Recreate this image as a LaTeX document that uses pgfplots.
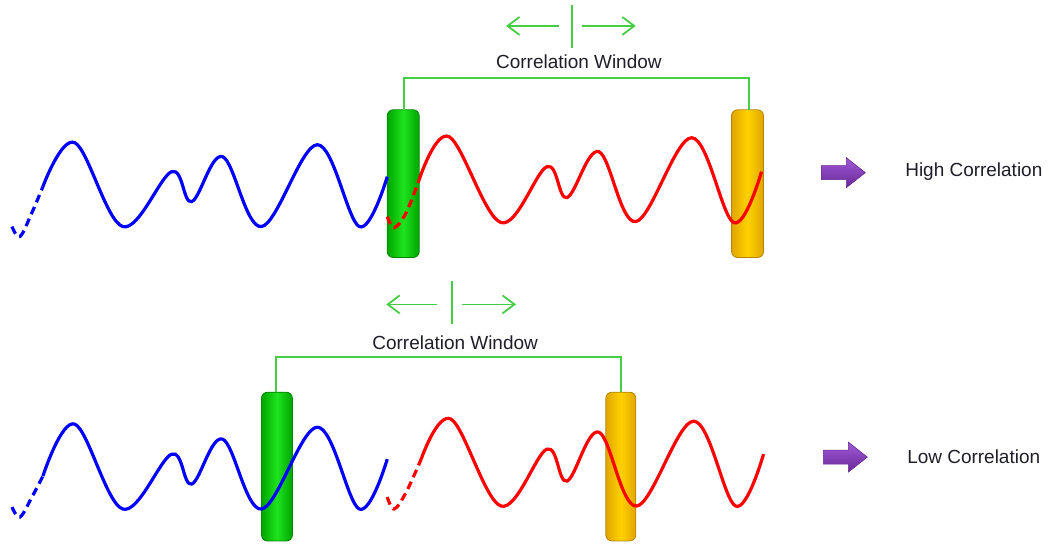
\documentclass[border=0pt]{standalone}
\usepackage{pgfplots}
\pgfplotsset{compat=1.18}
\usepackage{fontspec}
\setmainfont{Liberation Sans}
\usetikzlibrary{arrows.meta}
\definecolor{wblue}{RGB}{0,0,255}
\definecolor{wred}{RGB}{255,0,0}
\definecolor{lgreen}{RGB}{70,205,70}
\definecolor{gdark}{RGB}{0,165,0}
\definecolor{glight}{RGB}{30,228,30}
\definecolor{odark}{RGB}{225,165,0}
\definecolor{olight}{RGB}{255,210,0}
\definecolor{pdark}{RGB}{105,40,150}
\definecolor{plight}{RGB}{160,90,215}
\definecolor{txt}{RGB}{30,30,40}
\pgfplotsset{wave/.style={line width=1.6pt, smooth, tension=0.6}}
\begin{document}
\begin{tikzpicture}
\begin{axis}[width=524.5pt, height=272.5pt, scale only axis,
  xmin=0, xmax=1049, ymin=0, ymax=545, y dir=reverse,
  hide axis, clip=false]
\path (rel axis cs:0,0) rectangle (rel axis cs:1,1);
% ---------- bars ----------
\addplot[draw=gdark!80!black, line width=0.4pt, left color=gdark, right color=gdark, middle color=glight, rounded corners=3pt]
  coordinates {(388,110) (420,110) (420,258) (388,258)} -- cycle;
\addplot[draw=odark!80!black, line width=0.4pt, left color=odark, right color=odark, middle color=olight, rounded corners=3pt]
  coordinates {(733,110) (765,110) (765,258) (733,258)} -- cycle;
\addplot[draw=gdark!80!black, line width=0.4pt, left color=gdark, right color=gdark, middle color=glight, rounded corners=3pt]
  coordinates {(262,393) (293,393) (293,542) (262,542)} -- cycle;
\addplot[draw=odark!80!black, line width=0.4pt, left color=odark, right color=odark, middle color=olight, rounded corners=3pt]
  coordinates {(607,393) (637,393) (637,542) (607,542)} -- cycle;
% ---------- brackets ----------
\addplot[lgreen, line width=1pt] coordinates {(405,110) (405,78) (750,78) (750,110)};
\addplot[lgreen, line width=1pt] coordinates {(277,393) (277,358) (622,358) (622,393)};
% ---------- window arrows ----------
\addplot[lgreen, line width=0.9pt] coordinates {(573,5) (573,48)};
\addplot[lgreen, line width=0.9pt, -{Straight Barb[length=6pt,width=9pt]}] coordinates {(560,26) (507,26)};
\addplot[lgreen, line width=0.9pt, -{Straight Barb[length=6pt,width=9pt]}] coordinates {(583,26) (637,26)};
\addplot[lgreen, line width=0.9pt] coordinates {(453,282) (453,325)};
\addplot[lgreen, line width=0.9pt, -{Straight Barb[length=6pt,width=9pt]}] coordinates {(438,305) (387,305)};
\addplot[lgreen, line width=0.9pt, -{Straight Barb[length=6pt,width=9pt]}] coordinates {(463,305) (517,305)};
\node[txt, font=\fontsize{9.5}{11}\selectfont] at (axis cs:580,62) {Correlation Window};
\node[txt, font=\fontsize{9.5}{11}\selectfont] at (axis cs:456,343) {Correlation Window};
% ---------- top waves ----------
\addplot[wblue, wave, dash pattern=on 4pt off 2.5pt] coordinates {(12,227) (20,237) (32,213) (43,187)};
\addplot[wblue, wave] coordinates {(43,187) (75,143) (123,227) (172,172) (192,202) (223,157) (262,227) (318,145) (360,227) (388,177)};
\addplot[wred, wave, dash pattern=on 4pt off 2.5pt] coordinates {(388,217) (395,228) (407,213) (420,180)};
\addplot[wred, wave] coordinates {(420,180) (450,137) (502,223) (548,167) (568,198) (600,152) (637,222) (693,138) (735,223) (763,172)};
% ---------- bottom waves ----------
\addplot[wblue, wave, dash pattern=on 4pt off 2.5pt] coordinates {(12,508) (20,518) (32,498) (43,477)};
\addplot[wblue, wave] coordinates {(43,477) (75,425) (123,510) (172,455) (192,485) (223,440) (262,510) (318,428) (360,510) (388,460)};
\addplot[wred, wave, dash pattern=on 4pt off 2.5pt] coordinates {(388,498) (395,510) (407,493) (422,460)};
\addplot[wred, wave] coordinates {(422,460) (452,420) (502,507) (548,450) (568,482) (600,433) (638,507) (695,422) (737,507) (765,455)};
% ---------- purple arrows ----------
\addplot[draw=pdark, line width=0.3pt, top color=plight, bottom color=pdark] coordinates {(823,166) (848,166) (848,158) (867,173) (848,188) (848,180) (823,180)} -- cycle;
\addplot[draw=pdark, line width=0.3pt, top color=plight, bottom color=pdark] coordinates {(825,451) (850,451) (850,443) (869,458) (850,473) (850,465) (825,465)} -- cycle;
\node[txt, anchor=west, font=\fontsize{9.5}{11}\selectfont] at (axis cs:900,172) {High Correlation};
\node[txt, anchor=west, font=\fontsize{9.5}{11}\selectfont] at (axis cs:902,458) {Low Correlation};
\end{axis}
\end{tikzpicture}
\end{document}
